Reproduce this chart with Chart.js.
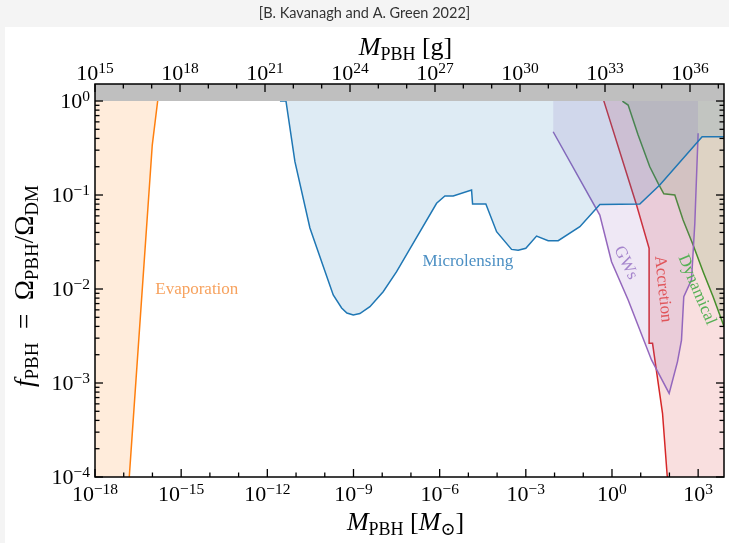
<!DOCTYPE html>
<html>
<head>
<meta charset="utf-8">
<script src="https://cdn.jsdelivr.net/npm/chart.js@4.4.0/dist/chart.umd.min.js"></script>
<style>
  html, body { margin: 0; padding: 0; background: #f4f4f4; }
  canvas { display: block; }
</style>
</head>
<body>
<canvas id="pbh" width="729" height="543"></canvas>
<script>
// axis tick exponents
const bottomExps = [-18, -15, -12, -9, -6, -3, 0, 3];
const topExps = [15, 18, 21, 24, 27, 30, 33, 36];
const yExps = [-4, -3, -2, -1, 0];

// constraint curves (mass in solar masses, f_PBH)
const evapMass  = [1e-18, 1.56e-17, 9.86e-17, 1.52e-16, 1.66e-16];
const evapLimit = [1e-12, 1e-4, 0.34, 1.0, 1.6];

const mlMass  = [2.75e-12, 4.45e-12, 9.14e-12, 3.04e-11, 7.78e-11, 1.97e-10, 3.86e-10, 5.9e-10, 9.8e-10, 1.67e-9,
                 3.73e-9, 1.08e-8, 3.17e-8, 9.2e-8, 7.82e-7, 1.52e-6, 2.96e-6, 1.29e-5, 1.40e-5, 4.06e-5,
                 9.6e-5, 3.19e-4, 5.42e-4, 1e-3, 2.37e-3, 6e-3, 1.34e-2, 7.6e-2, 0.378, 9.31, 46.2, 1374, 1e4];
const mlLimit = [1.0, 1.0, 0.226, 0.0446, 0.0195, 8.63e-3, 6.28e-3, 5.56e-3, 5.28e-3, 5.48e-3,
                 6.49e-3, 9.35e-3, 1.53e-2, 2.67e-2, 8.17e-2, 9.75e-2, 9.75e-2, 0.113, 8.02e-2, 8.02e-2,
                 4.07e-2, 2.64e-2, 2.58e-2, 2.71e-2, 3.66e-2, 3.27e-2, 3.27e-2, 4.6e-2, 7.93e-2, 8.02e-2, 0.128, 0.417, 0.417];

const gwMass  = [8.95e-3, 0.377, 0.964, 3.66, 23.8, 97.7, 191, 263, 316, 587, 766, 998];
const gwLimit = [0.471, 0.0612, 0.0195, 7.64e-3, 1.76e-3, 7.76e-4, 1.69e-3, 2.86e-3, 8.28e-3, 0.0125, 0.05, 0.453];

const accMass  = [0.481, 7.16, 19.6, 19.6, 25.8, 57.5, 83.2, 1e4];
const accLimit = [1.08, 0.0783, 0.0271, 2.64e-3, 2.64e-3, 4.76e-4, 1.05e-4, 1e-8];

const dynMass  = [2.14, 2.44, 3.65, 8.13, 20.7, 40.4, 63.8, 154, 299, 668, 1489, 3319, 8017, 1e4];
const dynLimit = [1.07, 0.984, 0.906, 0.435, 0.2, 0.133, 0.103, 0.1, 0.0542, 0.0294, 0.0153, 8.28e-3, 3.97e-3, 3.2e-3];

// region labels: text, mass, f, angle (deg), colour
const labels = [
  ['Evaporation', 3.5e-15, 9.8e-3, 0, '#f7a25e'],
  ['Microlensing', 9.6e-6, 1.95e-2, 0, '#4b8fc3'],
  ['GWs', 3.0, 1.9e-2, 64, '#a585cc'],
  ['Accretion', 59, 1.0e-2, 84, '#e0555a'],
  ['Dynamical', 900, 9.8e-3, 67, '#55b055'],
];

const xMax = Math.pow(10, 3.9);
const yMax = Math.pow(10, 0.181);

function pts(xs, ys) { return xs.map((x, i) => ({ x: x, y: ys[i] })); }

function region(data, color, fillColor) {
  return {
    data: data, fill: 'end', borderColor: color, backgroundColor: fillColor,
    borderWidth: 1.5, pointRadius: 0, tension: 0
  };
}

const SERIF = '"Liberation Serif", "DejaVu Serif", serif';

function supText(exp) { return exp < 0 ? '\u2212' + Math.abs(exp) : String(exp); }

function drawPow(c, x, y, exp, align) {
  const base = '10', sup = supText(exp);
  c.font = '22px ' + SERIF;
  const w1 = c.measureText(base).width;
  c.font = '15.5px ' + SERIF;
  const w2 = c.measureText(sup).width;
  let x0 = align === 'right' ? x - w1 - w2 : x - (w1 + w2) / 2;
  c.textAlign = 'left';
  c.textBaseline = 'alphabetic';
  c.font = '22px ' + SERIF;
  c.fillText(base, x0, y);
  c.font = '15.5px ' + SERIF;
  c.fillText(sup, x0 + w1, y - 7.5);
}

// segments: [text, italic, sub]
function drawMath(c, segs, cx, cy, rot, big) {
  const small = Math.round(big * 0.7);
  let total = 0;
  const parts = segs.map(s => {
    const f = (s[1] ? 'italic ' : '') + (s[2] ? small : big) + 'px ' + SERIF;
    c.font = f;
    const w = c.measureText(s[0]).width;
    total += w;
    return { t: s[0], f: f, w: w, dy: s[2] ? 5 : 0 };
  });
  c.save();
  c.translate(cx, cy);
  c.rotate(rot);
  c.textAlign = 'left';
  c.textBaseline = 'alphabetic';
  c.fillStyle = '#000';
  let x = -total / 2;
  parts.forEach(p => { c.font = p.f; c.fillText(p.t, x, p.dy); x += p.w; });
  c.restore();
}

const decor = {
  id: 'decor',
  beforeDraw(chart) {
    const c = chart.ctx;
    c.save();
    c.fillStyle = '#f4f4f4';
    c.fillRect(0, 0, chart.width, chart.height);
    c.fillStyle = '#ffffff';
    c.fillRect(5, 27, chart.width - 5, chart.height - 27);
    c.fillStyle = '#333';
    c.font = '14.5px Lato';
    c.textAlign = 'center';
    c.textBaseline = 'middle';
    c.fillText('[B. Kavanagh and A. Green 2022]', chart.width / 2, 13);
    c.restore();
  },
  afterDatasetsDraw(chart) {
    const c = chart.ctx, xs = chart.scales.x, ys = chart.scales.y;
    c.save();
    labels.forEach(l => {
      c.save();
      c.translate(xs.getPixelForValue(l[1]), ys.getPixelForValue(l[2]));
      c.rotate(l[3] * Math.PI / 180);
      c.font = '17px ' + SERIF;
      c.fillStyle = l[4];
      c.textAlign = 'center';
      c.textBaseline = 'middle';
      c.fillText(l[0], 0, 0);
      c.restore();
    });
    c.restore();
  },
  afterDraw(chart) {
    const c = chart.ctx, a = chart.chartArea;
    const xs = chart.scales.x, x2 = chart.scales.x2, ys = chart.scales.y;
    c.save();
    c.strokeStyle = '#000';
    c.fillStyle = '#000';
    c.lineWidth = 1.3;
    const line = (x1, y1, xb, yb) => { c.beginPath(); c.moveTo(x1, y1); c.lineTo(xb, yb); c.stroke(); };
    // y ticks, both sides
    for (let e = -4; e <= 0; e++) {
      for (let k = 1; k <= 9; k++) {
        const v = k * Math.pow(10, e);
        if (v > yMax) continue;
        const py = ys.getPixelForValue(v);
        const len = k === 1 ? 8 : 4.5;
        line(a.left, py, a.left + len, py);
        line(a.right, py, a.right - len, py);
      }
    }
    // bottom ticks
    for (let e = -18; e <= 3; e++) {
      const px = xs.getPixelForValue(Math.pow(10, e));
      line(px, a.bottom, px, a.bottom - (e % 3 === 0 ? 8 : 4.5));
    }
    // top ticks
    for (let e = 15; e <= 37; e++) {
      const px = x2.getPixelForValue(Math.pow(10, e));
      if (px > a.right) continue;
      line(px, a.top, px, a.top + (e % 3 === 0 ? 8 : 4.5));
    }
    c.lineWidth = 1.5;
    c.strokeRect(a.left, a.top, a.right - a.left, a.bottom - a.top);

    // tick labels
    bottomExps.forEach(e => drawPow(c, xs.getPixelForValue(Math.pow(10, e)), a.bottom + 24, e, 'center'));
    topExps.forEach(e => drawPow(c, x2.getPixelForValue(Math.pow(10, e)), a.top - 4, e, 'center'));
    yExps.forEach(e => drawPow(c, a.left - 5, ys.getPixelForValue(Math.pow(10, e)) + 7, e, 'right'));

    // axis titles
    const mid = (a.left + a.right) / 2;
    drawMath(c, [['M', true, false], ['PBH', false, true], [' [g]', false, false]], mid - 4, 55, 0, 26);
    drawMath(c, [['M', true, false], ['PBH', false, true], [' [', false, false], ['M', true, false], ['\u2299', false, true], [']', false, false]], mid - 4, 530, 0, 26);
    drawMath(c, [['f', true, false], ['PBH', false, true], ['  =  \u03A9', false, false], ['PBH', false, true], ['/\u03A9', false, false], ['DM', false, true]], 33, 286, -Math.PI / 2, 27);
    c.restore();
  }
};

const noFit = { display: false, drawTicks: false };

new Chart(document.getElementById('pbh'), {
  type: 'line',
  data: {
    datasets: [
      { data: pts([1e-18, xMax], [1, 1]), fill: 'end', borderWidth: 0, backgroundColor: '#bfbfbf', pointRadius: 0, order: -1 },
      region(pts(mlMass, mlLimit), '#1f77b4', 'rgba(31,119,180,0.15)'),
      region(pts(evapMass, evapLimit), '#ff7f0e', 'rgba(255,127,14,0.15)'),
      region(pts(gwMass, gwLimit), '#9467bd', 'rgba(148,103,189,0.15)'),
      region(pts(accMass, accLimit), '#d62728', 'rgba(214,39,40,0.15)'),
      region(pts(dynMass, dynLimit), '#2ca02c', 'rgba(44,160,44,0.15)'),
    ]
  },
  options: {
    responsive: false,
    animation: false,
    layout: { padding: { left: 0, right: 5, top: 0, bottom: 0 } },
    plugins: { legend: { display: false }, tooltip: { enabled: false } },
    scales: {
      x: {
        type: 'logarithmic', position: 'bottom', min: 1e-18, max: xMax,
        grid: noFit, border: { display: false }, ticks: { display: false },
        afterBuildTicks: s => { s.ticks = bottomExps.map(e => ({ value: Math.pow(10, e) })); },
        afterFit: s => { s.height = 66; }
      },
      x2: {
        type: 'logarithmic', position: 'top', min: 1e15, max: Math.pow(10, 37.2),
        grid: noFit, border: { display: false }, ticks: { display: false },
        afterBuildTicks: s => { s.ticks = topExps.map(e => ({ value: Math.pow(10, e) })); },
        afterFit: s => { s.height = 84; }
      },
      y: {
        type: 'logarithmic', position: 'left', min: 1e-4, max: yMax,
        grid: noFit, border: { display: false }, ticks: { display: false },
        afterBuildTicks: s => { s.ticks = yExps.map(e => ({ value: Math.pow(10, e) })); },
        afterFit: s => { s.width = 95; }
      }
    }
  },
  plugins: [decor]
});
</script>
</body>
</html>
